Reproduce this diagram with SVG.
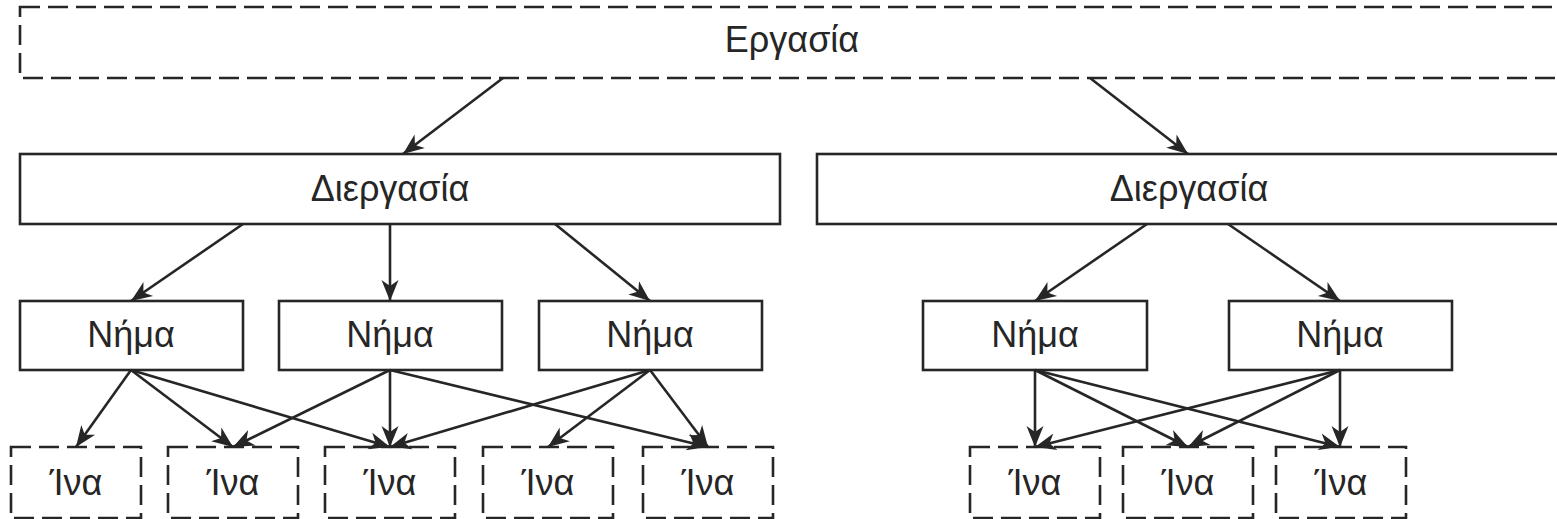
<svg xmlns="http://www.w3.org/2000/svg" width="1557" height="519" viewBox="0 0 1557 519">
  <style>
    .box { fill: #ffffff; stroke: #262626; stroke-width: 2.6; }
    .dash { stroke-dasharray: 20 8; }
    .lbl { font-family: "Liberation Sans", Arial, sans-serif; font-size: 36px; fill: #262626; text-anchor: middle; }
    .edge { stroke: #262626; stroke-width: 2.6; fill: none; marker-end: url(#arrow); }
  </style>
  <defs>
    <!-- barbed arrowhead, tip at the line end -->
    <marker id="arrow" markerUnits="userSpaceOnUse" markerWidth="24" markerHeight="20" refX="22" refY="9" orient="auto">
      <path d="M22,9 L1,0.5 L7,9 L1,17.5 Z" fill="#262626"/>
    </marker>
  </defs>
  <rect width="1557" height="519" fill="#ffffff"/>

  <!-- job -->
  <g id="job">
    <rect class="box dash" x="20" y="7" width="1544" height="71"/>
    <text class="lbl" x="792" y="52">Εργασία</text>
  </g>

  <!-- processes -->
  <g id="process-1">
    <rect class="box" x="20" y="154" width="760" height="70"/>
    <text class="lbl" x="390" y="201">Διεργασία</text>
  </g>
  <g id="process-2">
    <rect class="box" x="817" y="154" width="744" height="70"/>
    <text class="lbl" x="1189" y="201">Διεργασία</text>
  </g>

  <!-- threads -->
  <g id="thread-1">
    <rect class="box" x="20" y="301" width="223" height="69"/>
    <text class="lbl" x="131" y="347">Νήμα</text>
  </g>
  <g id="thread-2">
    <rect class="box" x="279" y="301" width="223" height="69"/>
    <text class="lbl" x="390" y="347">Νήμα</text>
  </g>
  <g id="thread-3">
    <rect class="box" x="539" y="301" width="223" height="69"/>
    <text class="lbl" x="650" y="347">Νήμα</text>
  </g>
  <g id="thread-4">
    <rect class="box" x="923" y="301" width="224" height="69"/>
    <text class="lbl" x="1035" y="347">Νήμα</text>
  </g>
  <g id="thread-5">
    <rect class="box" x="1229" y="301" width="223" height="69"/>
    <text class="lbl" x="1340" y="347">Νήμα</text>
  </g>

  <!-- fibers -->
  <g id="fiber-1">
    <rect class="box dash" x="11" y="447" width="130" height="71"/>
    <text class="lbl" x="76" y="495">Ίνα</text>
  </g>
  <g id="fiber-2">
    <rect class="box dash" x="168" y="447" width="130" height="71"/>
    <text class="lbl" x="233" y="495">Ίνα</text>
  </g>
  <g id="fiber-3">
    <rect class="box dash" x="325" y="447" width="130" height="71"/>
    <text class="lbl" x="390" y="495">Ίνα</text>
  </g>
  <g id="fiber-4">
    <rect class="box dash" x="483" y="447" width="130" height="71"/>
    <text class="lbl" x="548" y="495">Ίνα</text>
  </g>
  <g id="fiber-5">
    <rect class="box dash" x="643" y="447" width="130" height="71"/>
    <text class="lbl" x="708" y="495">Ίνα</text>
  </g>
  <g id="fiber-6">
    <rect class="box dash" x="970" y="447" width="130" height="71"/>
    <text class="lbl" x="1035" y="495">Ίνα</text>
  </g>
  <g id="fiber-7">
    <rect class="box dash" x="1123" y="447" width="130" height="71"/>
    <text class="lbl" x="1188" y="495">Ίνα</text>
  </g>
  <g id="fiber-8">
    <rect class="box dash" x="1276" y="447" width="130" height="71"/>
    <text class="lbl" x="1341" y="495">Ίνα</text>
  </g>

  <!-- connectors -->
  <g id="connectors">
    <line class="edge" x1="503" y1="78" x2="403" y2="154"/>
    <line class="edge" x1="1090" y1="78" x2="1188" y2="154"/>

    <line class="edge" x1="243" y1="224" x2="131" y2="301"/>
    <line class="edge" x1="390" y1="224" x2="390" y2="301"/>
    <line class="edge" x1="555" y1="224" x2="650" y2="301"/>
    <line class="edge" x1="1147" y1="224" x2="1035" y2="301"/>
    <line class="edge" x1="1228" y1="224" x2="1340" y2="301"/>

    <line class="edge" x1="131" y1="370" x2="76" y2="447"/>
    <line class="edge" x1="131" y1="370" x2="233" y2="447"/>
    <line class="edge" x1="131" y1="370" x2="390" y2="447"/>
    <line class="edge" x1="390" y1="370" x2="233" y2="447"/>
    <line class="edge" x1="390" y1="370" x2="390" y2="447"/>
    <line class="edge" x1="390" y1="370" x2="708" y2="447"/>
    <line class="edge" x1="650" y1="370" x2="390" y2="447"/>
    <line class="edge" x1="650" y1="370" x2="548" y2="447"/>
    <line class="edge" x1="650" y1="370" x2="708" y2="447"/>

    <line class="edge" x1="1035" y1="370" x2="1035" y2="447"/>
    <line class="edge" x1="1035" y1="370" x2="1188" y2="447"/>
    <line class="edge" x1="1035" y1="370" x2="1340" y2="447"/>
    <line class="edge" x1="1340" y1="370" x2="1035" y2="447"/>
    <line class="edge" x1="1340" y1="370" x2="1188" y2="447"/>
    <line class="edge" x1="1340" y1="370" x2="1340" y2="447"/>
  </g>
</svg>
